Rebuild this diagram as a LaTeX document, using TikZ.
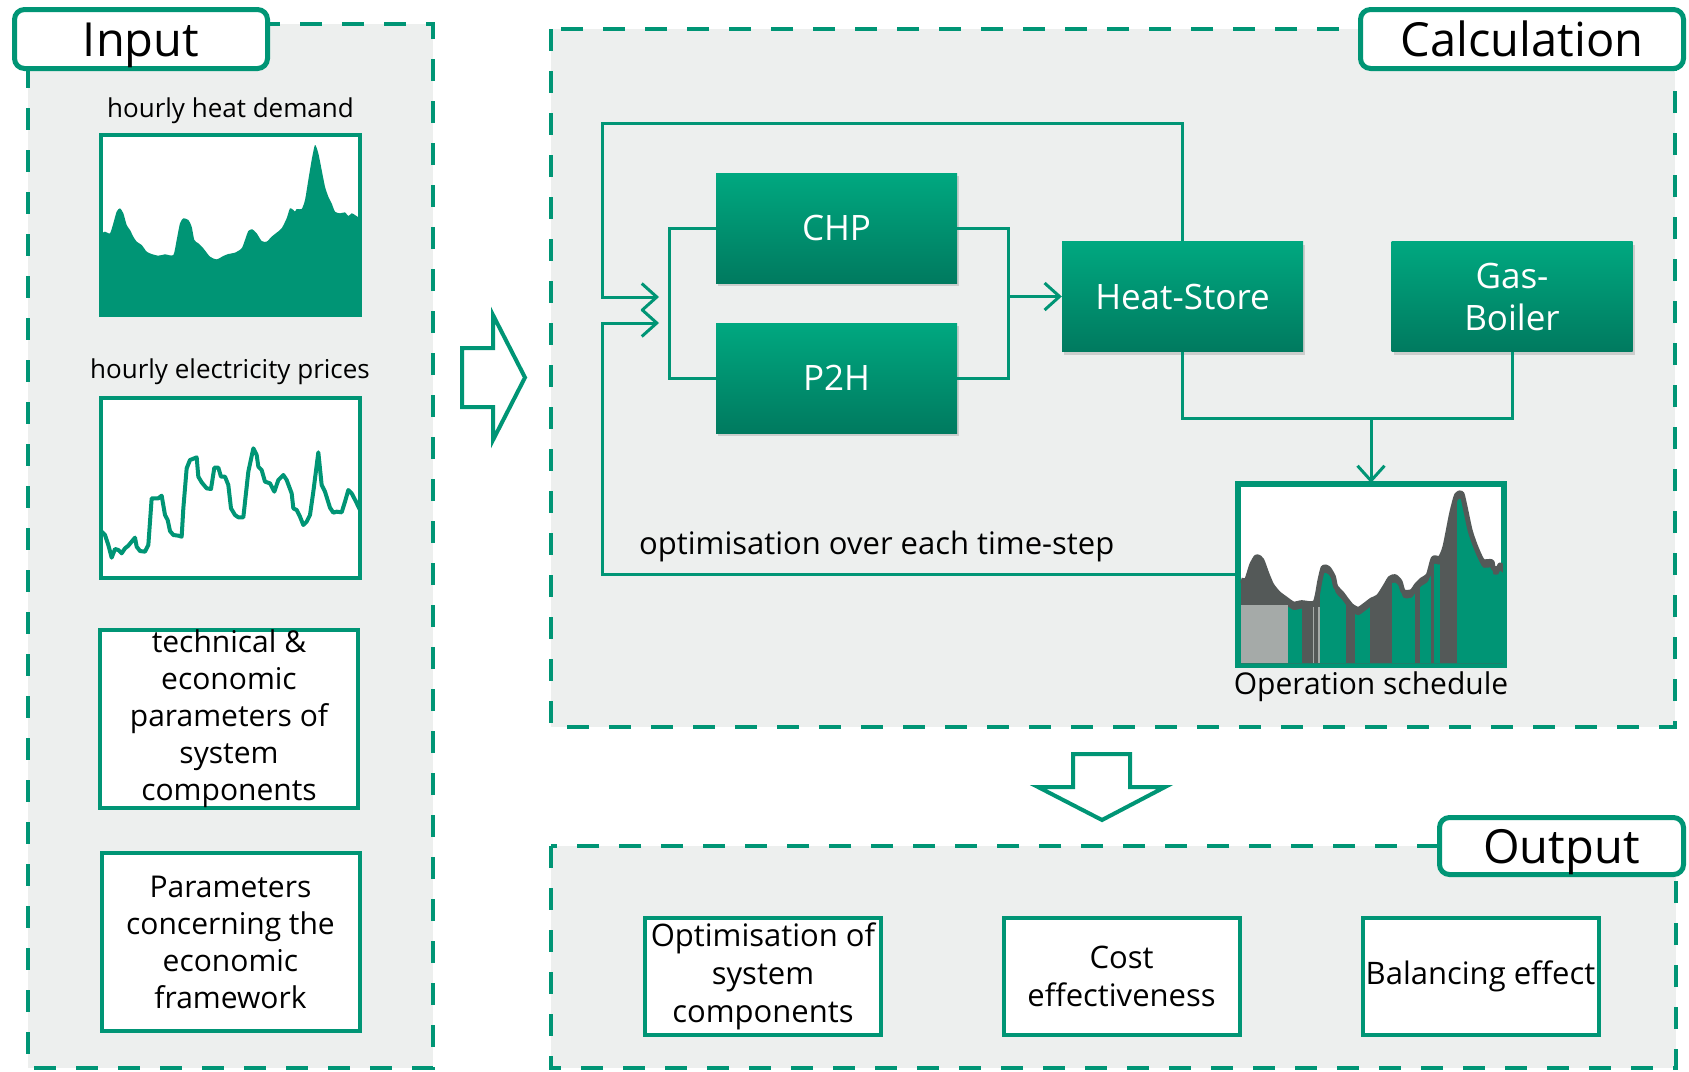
\documentclass[tikz,border=0pt]{standalone}
\usepackage{fontspec}
\setmainfont{Open Sans}
\usetikzlibrary{positioning,arrows.meta,shadows}

\definecolor{isegreen}{RGB}{0,149,117}
\definecolor{unittop}{RGB}{0,168,128}
\definecolor{unitbottom}{RGB}{0,122,95}
\definecolor{panelgray}{RGB}{237,239,238}
\definecolor{curvegray}{RGB}{84,89,88}
\definecolor{basegray}{RGB}{165,170,168}

% demand curve of the schedule chart (local chart coordinates)
\newcommand{\schedcurve}{plot[smooth, tension=0.4] coordinates {(18,300) (35,300) (50,255) (65,230) (80,240) (95,280) (110,315) (130,340) (150,355) (175,372) (200,368) (240,368) (255,300) (265,262) (280,265) (295,290) (302,320) (320,340) (335,360) (350,378) (370,388) (390,375) (410,360) (430,350) (450,320) (465,295) (480,290) (495,305) (505,335) (530,335) (545,315) (560,300) (580,285) (595,235) (615,235) (630,200) (650,100) (665,45) (680,40) (690,80) (705,150) (720,195) (735,230) (745,245) (770,245) (775,265) (790,265) (795,255) (810,265)}}

\begin{document}
\begin{tikzpicture}[x=1pt, y=-1pt,
    panel/.style={fill=panelgray, draw=isegreen, line width=4.5pt, dash pattern=on 22pt off 20pt},
    paneltab/.style={draw=isegreen, line width=5pt, fill=white, rounded corners=10pt,
        inner sep=0pt, text height=34pt, text depth=0pt, font=\fontsize{47}{56}\selectfont},
    chart/.style={draw=isegreen, line width=4pt, fill=white, inner sep=0pt,
        minimum width=259pt, minimum height=180pt},
    chartlabel/.style={inner sep=0pt, font=\fontsize{26}{31}\selectfont},
    infobox/.style={draw=isegreen, line width=4pt, fill=white, inner sep=0pt, align=center,
        minimum width=258pt, minimum height=178pt, font=\fontsize{30}{37}\selectfont},
    resultbox/.style={infobox, minimum width=236pt, minimum height=117pt,
        font=\fontsize{31}{38}\selectfont},
    unitbox/.style={top color=unittop, bottom color=unitbottom, text=white, align=center,
        inner sep=0pt, minimum width=241pt, minimum height=110pt,
        font=\fontsize{35}{42}\selectfont,
        drop shadow={shadow xshift=2pt, shadow yshift=-3pt, opacity=0.3}},
    wire/.style={draw=isegreen, line width=3pt},
    flowarrow/.style={-{Straight Barb[length=15pt, width=27pt]}},
    bigarrow/.style={draw=isegreen, line width=4pt, fill=white, line join=miter}
]
    \useasboundingbox (0,0) rectangle (1689,1071);

    % Input panel
    \draw[panel] (28,24) rectangle (433,1068);
    \node[paneltab, minimum width=253pt, minimum height=59pt] (inputtab) at (141,39) {Input};

    % heat demand chart
    \node[chart] (demandchart) at (230.5,225) {};
    \node[chartlabel, above=9pt of demandchart] (demandlabel) {hourly heat demand};
    \begin{scope}[shift={(95,130)}, scale=1/3]
        \fill[isegreen] plot[smooth, tension=0.4] coordinates {(20,310) (30,305) (45,310) (55,280) (65,245) (75,235) (85,250) (95,285) (105,300) (115,320) (125,335) (140,345) (155,365) (170,372) (190,377) (210,373) (235,375) (245,330) (255,280) (265,265) (280,270) (290,290) (298,330) (310,340) (325,355) (345,380) (365,388) (385,378) (400,372) (420,368) (440,355) (450,330) (460,303) (472,298) (485,310) (500,333) (515,335) (530,320) (545,308) (560,295) (575,265) (585,235) (595,240) (600,245) (605,237) (620,237) (630,210) (640,150) (650,90) (660,45) (670,70) (680,120) (690,170) (700,200) (710,220) (720,245) (735,250) (750,247) (760,258) (770,250) (780,255) (790,262)}
            -- (790,555) -- (20,555) -- cycle;
    \end{scope}

    % electricity price chart
    \node[chart] (pricechart) at (230,488) {};
    \node[chartlabel, above=11pt of pricechart] (pricelabel) {hourly electricity prices};
    \begin{scope}[shift={(95,395)}, scale=1/3]
        \draw[isegreen, line width=4pt, line join=round] plot coordinates {(20,410) (30,420) (40,450) (50,488) (60,462) (70,465) (80,475) (90,460) (100,452) (110,440) (120,428) (125,455) (135,468) (150,470) (160,450) (170,310) (190,310) (200,302) (210,360) (218,375) (225,408) (235,420) (250,422) (260,425) (265,340) (275,220) (285,195) (305,187) (310,245) (320,262) (335,280) (348,282) (358,218) (370,218) (378,245) (390,245) (400,270) (408,340) (420,360) (430,367) (445,367) (460,230) (475,160) (485,180) (490,215) (500,225) (510,260) (525,265) (538,290) (550,255) (565,240) (575,255) (590,295) (595,340) (605,345) (615,365) (625,390) (635,380) (645,360) (655,290) (670,172) (680,270) (690,290) (705,338) (715,353) (725,350) (740,352) (750,320) (760,285) (770,295) (782,318) (795,345)};
    \end{scope}

    % parameter boxes
    \node[infobox] (techbox) at (229,719) {technical \&\\economic\\parameters of\\system\\components};
    \node[infobox] (econbox) at (230.5,942) {Parameters\\concerning the\\economic\\framework};

    % Input -> Calculation
    \draw[bigarrow] (462,348) -- (493,348) -- (493,315) -- (525,377.5) -- (493,440) -- (493,407) -- (462,407) -- cycle;

    % Calculation panel
    \draw[panel] (551,29) rectangle (1675,727);
    \node[paneltab, minimum width=323pt, minimum height=59pt] (calctab) at (1522,39) {Calculation};

    \node[unitbox] (chp) at (836.5,228) {CHP};
    \node[unitbox] (p2h) at (836.5,378) {P2H};
    \node[unitbox] (heatstore) at (1182.5,296.5) {Heat-Store};
    \node[unitbox] (gasboiler) at (1512,296.5) {Gas-\\Boiler};

    % operation schedule chart
    \node[chart, minimum width=264pt, minimum height=179pt] (opchart) at (1371,574.5) {};
    \node[chartlabel, font=\fontsize{30}{36}\selectfont, below=5pt of opchart] (oplabel) {Operation schedule};
    \begin{scope}[shift={(1235,480)}, scale=1/3]
        \fill[curvegray] \schedcurve -- (810,550) -- (18,550) -- cycle;
        \fill[basegray] (18,375) rectangle (158,550);
        \fill[basegray] (234,380) rectangle (238,550);
        \fill[basegray] (250,380) rectangle (254,550);
        \begin{scope}
            \clip[yshift=-18pt] \schedcurve -- (810,570) -- (18,570) -- cycle;
            \fill[isegreen] (158,0) rectangle (200,550);
            \fill[isegreen] (255,0) rectangle (332,550);
            \fill[isegreen] (360,0) rectangle (405,550);
            \fill[isegreen] (470,0) rectangle (540,550);
            \fill[isegreen] (556,0) rectangle (588,550);
            \fill[isegreen] (598,0) rectangle (614,550);
            \fill[isegreen] (665,0) rectangle (810,550);
        \end{scope}
        \draw[curvegray, line width=5pt, line join=round] \schedcurve;
    \end{scope}
    \draw[isegreen, line width=4pt] (opchart.north west) rectangle (opchart.south east);

    % optimisation loop
    \coordinate (loopTL) at (602,123);
    \coordinate (loopBL) at (602,323);
    \coordinate (inA) at (659,297);
    \coordinate (inB) at (659,323);
    \draw[wire, flowarrow] (heatstore.north) |- (loopTL) |- (inA);
    \draw[wire, flowarrow] (opchart.west) -| (loopBL) -- (inB);
    \node[anchor=west, inner sep=0pt, font=\fontsize{31}{36}\selectfont] (optlabel) at (639,546) {optimisation over each time-step};

    % CHP / P2H bracket
    \draw[wire] (chp.west) -- ++(-46,0) |- (p2h.west);
    \draw[wire] (chp.east) -- ++(51,0) coordinate (mergeR) |- (p2h.east);
    \draw[wire, flowarrow] (mergeR |- heatstore.west) -- (heatstore.west);

    % heat store and boiler into schedule
    \coordinate (collect) at (1371,418);
    \draw[wire] (heatstore.south) |- (collect) -| (gasboiler.south);
    \draw[wire, flowarrow] (collect) -- (opchart.north);

    % Calculation -> Output
    \draw[bigarrow] (1073,754) -- (1130,754) -- (1130,787) -- (1165,787) -- (1102,820) -- (1038,787) -- (1073,787) -- cycle;

    % Output panel
    \draw[panel] (551,846) rectangle (1676,1068);
    \node[paneltab, minimum width=244pt, minimum height=57pt] (outputtab) at (1561.5,846) {Output};

    \node[resultbox] (sizingbox) at (763,976.5) {Optimisation of\\system\\components};
    \node[resultbox] (costbox) at (1121.5,976.5) {Cost\\effectiveness};
    \node[resultbox] (balancebox) at (1480.5,976.5) {Balancing effect};
\end{tikzpicture}
\end{document}
